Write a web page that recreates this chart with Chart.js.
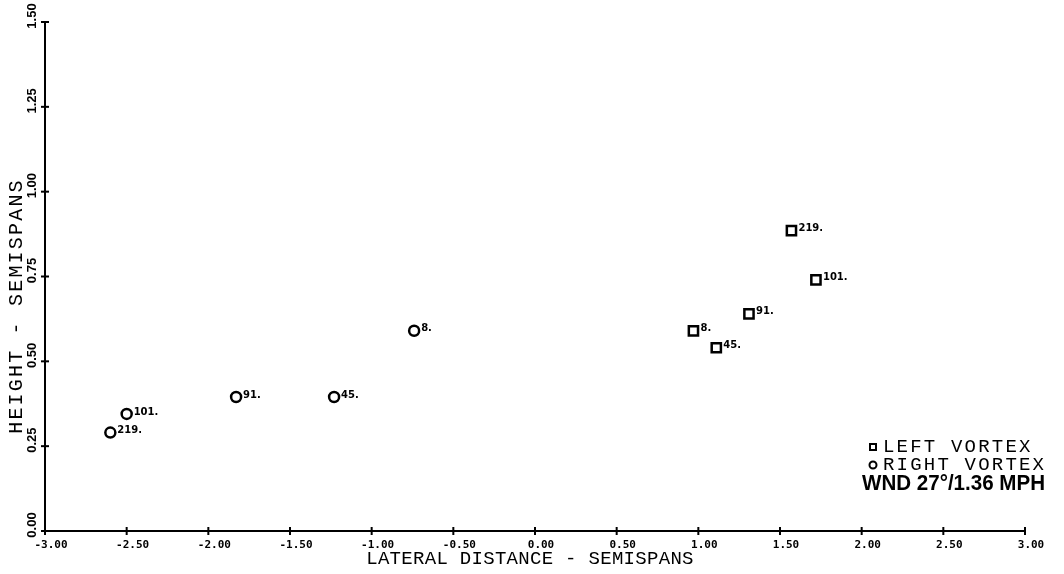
<!DOCTYPE html>
<html><head><meta charset="utf-8">
<script src="https://cdn.jsdelivr.net/npm/chart.js@4.4.0/dist/chart.umd.min.js"></script>
<style>html,body{margin:0;padding:0;background:#fff;overflow:hidden}#wrap{width:1064px;height:574px}</style>
</head><body><div id="wrap"><canvas id="c" width="1064" height="574"></canvas></div>
<script>
// ---- data ----
const runLabels = ['8.', '45.', '91.', '101.', '219.'];
const leftX  = [0.97, 1.11, 1.31, 1.72, 1.57];
const leftY  = [0.59, 0.54, 0.64, 0.74, 0.885];
const rightX = [-0.74, -1.23, -1.83, -2.50, -2.60];
const rightY = [0.59, 0.395, 0.395, 0.345, 0.29];
const xTickLabels = ['-3.00','-2.50','-2.00','-1.50','-1.00','-0.50','0.00','0.50','1.00','1.50','2.00','2.50','3.00'];
const yTickLabels = ['0.00','0.25','0.50','0.75','1.00','1.25','1.50'];
const legendItems = ['LEFT VORTEX', 'RIGHT VORTEX'];
const windNote = 'WND 27°/1.36 MPH';
const xTitle = 'LATERAL DISTANCE - SEMISPANS';
const yTitle = 'HEIGHT - SEMISPANS';

const toPts = (xs, ys) => xs.map((x, i) => ({x: x, y: ys[i]}));

const overlay = {
  id: 'overlay',
  afterDraw(chart) {
    const ctx = chart.ctx, xs = chart.scales.x, ys = chart.scales.y, ca = chart.chartArea;
    ctx.save();
    ctx.strokeStyle = '#000'; ctx.fillStyle = '#000'; ctx.lineWidth = 2;
    // tick marks (crossing the axes)
    xs.ticks.forEach((t, i) => {
      const px = xs.getPixelForTick(i);
      ctx.beginPath(); ctx.moveTo(px, ca.bottom - 4); ctx.lineTo(px, ca.bottom + 4); ctx.stroke();
    });
    ys.ticks.forEach((t, i) => {
      const py = ys.getPixelForTick(i);
      ctx.beginPath(); ctx.moveTo(ca.left - 4, py); ctx.lineTo(ca.left + 4, py); ctx.stroke();
    });
    // tick labels
    ctx.font = 'bold 11px "DejaVu Sans Mono"';
    ctx.textAlign = 'center'; ctx.textBaseline = 'middle';
    xs.ticks.forEach((t, i) => {
      ctx.fillText(xTickLabels[i], xs.getPixelForTick(i) + 6, ca.bottom + 14);
    });
    ys.ticks.forEach((t, i) => {
      ctx.save();
      ctx.translate(ca.left - 13, ys.getPixelForTick(i) - 6);
      ctx.rotate(-Math.PI / 2);
      ctx.font = 'bold 13px "Liberation Sans"';
      ctx.fillText(yTickLabels[i], 0, 0);
      ctx.restore();
    });
    // axis titles
    ctx.font = '19px "Liberation Mono"';
    ctx.letterSpacing = '0.3px';
    ctx.fillText(xTitle, 530, ca.bottom + 28);
    ctx.save();
    ctx.translate(17, 306);
    ctx.rotate(-Math.PI / 2);
    ctx.font = '20px "Liberation Mono"';
    ctx.letterSpacing = '2.2px';
    ctx.fillText(yTitle, 0, 0);
    ctx.restore();
    // point labels
    ctx.letterSpacing = '0px';
    ctx.font = 'bold 10px "DejaVu Sans"';
    ctx.textAlign = 'left';
    chart.data.datasets.forEach((ds, di) => {
      chart.getDatasetMeta(di).data.forEach((el, i) => {
        ctx.fillText(runLabels[i], el.x + 7, el.y - 2);
      });
    });
    // legend
    ctx.font = '19px "Liberation Mono"';
    ctx.letterSpacing = '2.2px';
    ctx.textAlign = 'left';
    ctx.fillText(legendItems[0], 883, 447);
    ctx.fillText(legendItems[1], 883, 465);
    ctx.lineWidth = 2;
    ctx.strokeRect(870, 444, 6, 6);
    ctx.beginPath(); ctx.arc(873, 465, 3.5, 0, Math.PI * 2); ctx.stroke();
    ctx.letterSpacing = '0px';
    ctx.font = 'bold 22px "Liberation Sans"';
    const w = ctx.measureText(windNote).width;
    ctx.save();
    ctx.translate(862, 484);
    ctx.scale(183 / w, 1);
    ctx.fillText(windNote, 0, 0);
    ctx.restore();
    ctx.restore();
  }
};

new Chart(document.getElementById('c'), {
  type: 'scatter',
  data: {
    datasets: [
      { label: legendItems[0], data: toPts(leftX, leftY), pointStyle: 'rect', pointRadius: 6.5,
        borderColor: '#000', backgroundColor: '#fff', borderWidth: 2.5, showLine: false },
      { label: legendItems[1], data: toPts(rightX, rightY), pointStyle: 'circle', pointRadius: 5,
        borderColor: '#000', backgroundColor: '#fff', borderWidth: 2.5, showLine: false }
    ]
  },
  options: {
    responsive: false, animation: false, devicePixelRatio: 1,
    layout: { padding: { top: 22, right: 39, left: 0, bottom: 0 } },
    plugins: { legend: { display: false }, tooltip: { enabled: false } },
    scales: {
      x: { type: 'linear', min: -3, max: 3,
           ticks: { stepSize: 0.5, display: false },
           grid: { display: false, drawTicks: false },
           border: { display: true, color: '#000', width: 2 },
           afterFit(s) { s.height = 43; } },
      y: { type: 'linear', min: 0, max: 1.5,
           ticks: { stepSize: 0.25, display: false },
           grid: { display: false, drawTicks: false },
           border: { display: true, color: '#000', width: 2 },
           afterFit(s) { s.width = 45; } }
    }
  },
  plugins: [overlay]
});
</script></body></html>
